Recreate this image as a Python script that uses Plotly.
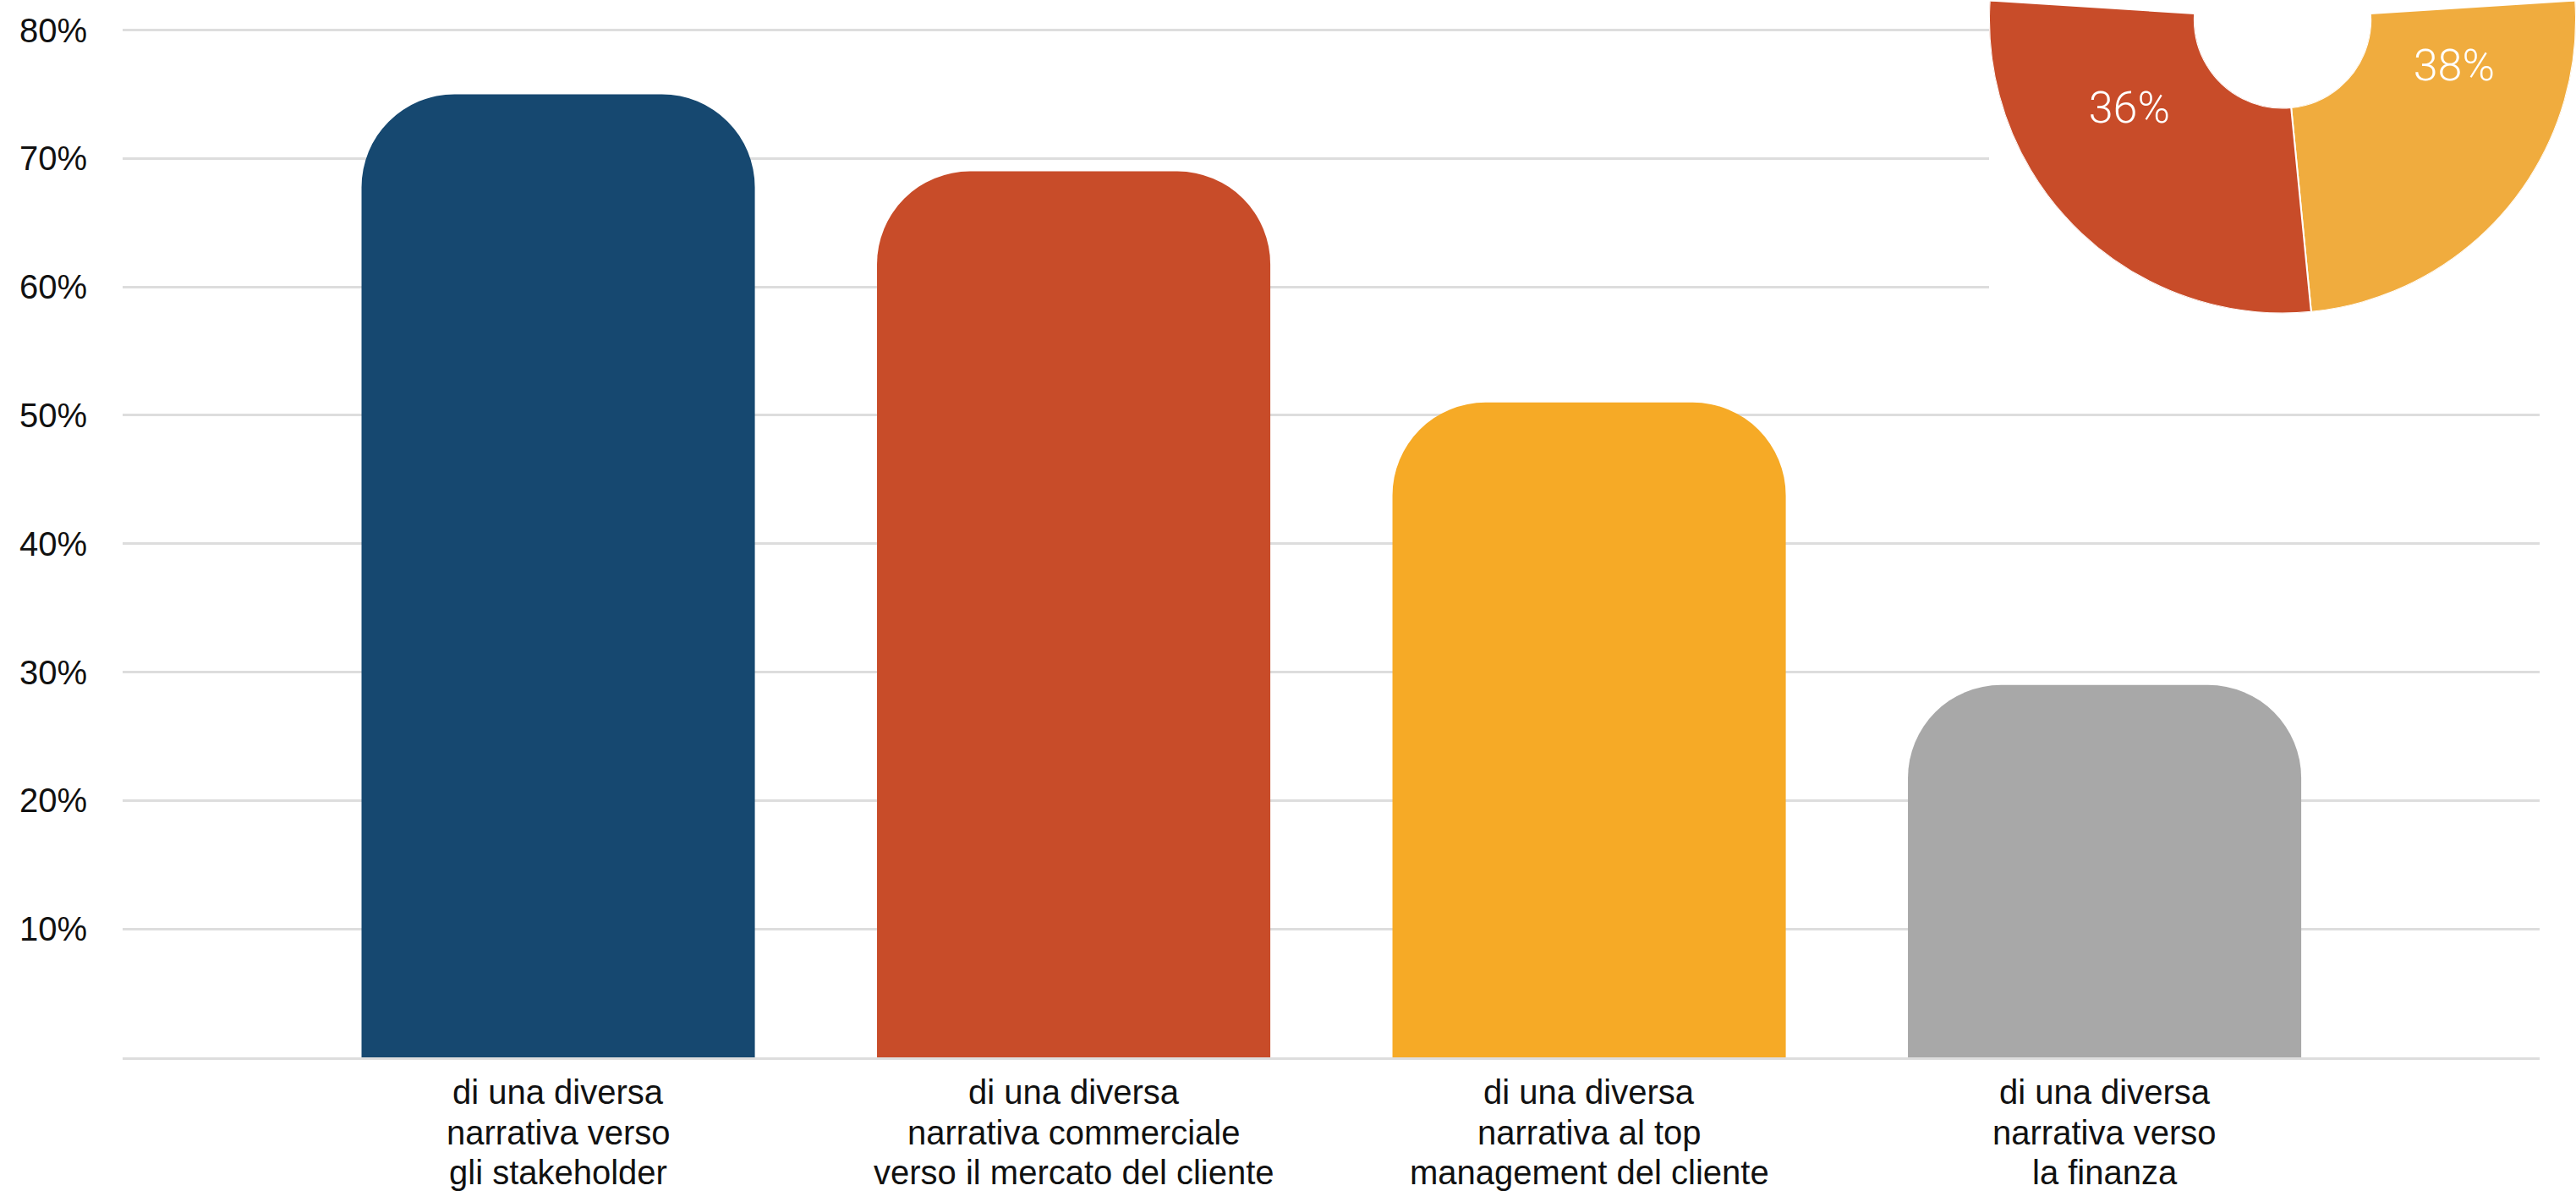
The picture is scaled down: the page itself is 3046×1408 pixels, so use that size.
import numpy as np
import plotly.graph_objects as go

# ---------------- data ----------------
categories = [
    "di una diversa\nnarrativa verso\ngli stakeholder",
    "di una diversa\nnarrativa commerciale\nverso il mercato del cliente",
    "di una diversa\nnarrativa al top\nmanagement del cliente",
    "di una diversa\nnarrativa verso\nla finanza",
]
values = [75, 69, 51, 29]
bar_colors = ["#164870", "#C84C29", "#F6AA26", "#A8A8A8"]

y_tickvals = [10, 20, 30, 40, 50, 60, 70, 80]
y_ticktext = ["10%", "20%", "30%", "40%", "50%", "60%", "70%", "80%"]

donut_values = [38, 26, 36]
donut_colors = ["#F0AC3E", "#164870", "#C84C29"]
donut_text = ["38%", "", "36%"]   # the upper slice label lies outside the visible area

# ---------------- figure ----------------
W, H = 3046, 1408
x_names = [c.replace("\n", " ") for c in categories]

X_DOM_PX = (145, 3003)
X_RANGE = (-0.845, 3.844)
Y_DOM_PX = (1250, 5.2)   # pixel rows of range bottom / top
Y_RANGE = (0, 82)


def px_to_x(px):
    return X_RANGE[0] + (px - X_DOM_PX[0]) / (X_DOM_PX[1] - X_DOM_PX[0]) * (X_RANGE[1] - X_RANGE[0])


def py_to_y(py):
    return Y_RANGE[0] + (Y_DOM_PX[0] - py) / (Y_DOM_PX[0] - Y_DOM_PX[1]) * (Y_RANGE[1] - Y_RANGE[0])


fig = go.Figure()
fig.add_trace(go.Bar(
    x=x_names, y=values,
    marker=dict(color=bar_colors, cornerradius=110, line=dict(width=0)),
    hovertemplate="%{x}: %{y}%<extra></extra>",
    showlegend=False,
))

# donut (polar subplot, only the lower part is visible)
widths = np.array(donut_values) / sum(donut_values) * 360.0
starts = np.cumsum(widths) - widths
centers = starts + widths / 2
fig.add_trace(go.Barpolar(
    r=[1] * len(donut_values), theta=centers, width=widths, base=0,
    marker=dict(color=donut_colors, line=dict(color="white", width=2)),
    subplot="polar", showlegend=False,
    customdata=donut_values, hovertemplate="%{customdata}%<extra></extra>",
))
fig.add_trace(go.Scatterpolar(
    r=[0.44] * len(donut_values), theta=centers, mode="text",
    text=donut_text,
    textfont=dict(family="Roboto", size=52, color="white", weight=300),
    subplot="polar", showlegend=False, hoverinfo="skip",
))

# category labels, one line per annotation
annotations = []
for xn, cat in zip(x_names, categories):
    for j, line in enumerate(cat.split("\n")):
        annotations.append(dict(
            x=xn, xref="x", y=0, yref="y", yanchor="middle", xanchor="center",
            yshift=-(41 + 47.5 * j), text=line, showarrow=False,
            font=dict(family="Liberation Sans, Arial", size=40, color="#111111"),
        ))

fig.update_layout(
    width=W, height=H,
    margin=dict(l=0, r=0, t=0, b=0),
    paper_bgcolor="white", plot_bgcolor="white",
    bargap=0.237,
    font=dict(family="Liberation Sans, Arial", color="#111111"),
    annotations=annotations,
    xaxis=dict(
        domain=[X_DOM_PX[0] / W, X_DOM_PX[1] / W],
        range=list(X_RANGE),
        showgrid=False, showticklabels=False, ticks="",
        showline=True, linecolor="#DDDDDD", linewidth=3,
        zeroline=False, fixedrange=True,
    ),
    yaxis=dict(
        domain=[(H - Y_DOM_PX[0]) / H, (H - Y_DOM_PX[1]) / H],
        range=list(Y_RANGE),
        tickvals=y_tickvals, ticktext=y_ticktext,
        tickfont=dict(family="Liberation Sans, Arial", size=40, color="#111111"),
        showgrid=True, gridcolor="#DDDDDD", gridwidth=3,
        zeroline=False, showline=False, ticks="",
        ticklabelstandoff=41, fixedrange=True,
    ),
    polar=dict(
        domain=dict(x=[2352 / W, 1.0], y=[(H - 372) / H, 1.0]),
        sector=[176.37, 363.63],
        hole=0.30,
        bgcolor="white",
        radialaxis=dict(visible=False, range=[0, 1]),
        angularaxis=dict(visible=False, rotation=275.6, direction="counterclockwise"),
    ),
    shapes=[dict(
        type="rect", xref="x", yref="y",
        x0=px_to_x(2352), x1=X_RANGE[1], y0=py_to_y(420), y1=Y_RANGE[1],
        fillcolor="white", line=dict(width=0), layer="between",
    )],
)

fig.write_html("out.html", config={"displayModeBar": False},
               post_script="document.body.style.margin='0';")
